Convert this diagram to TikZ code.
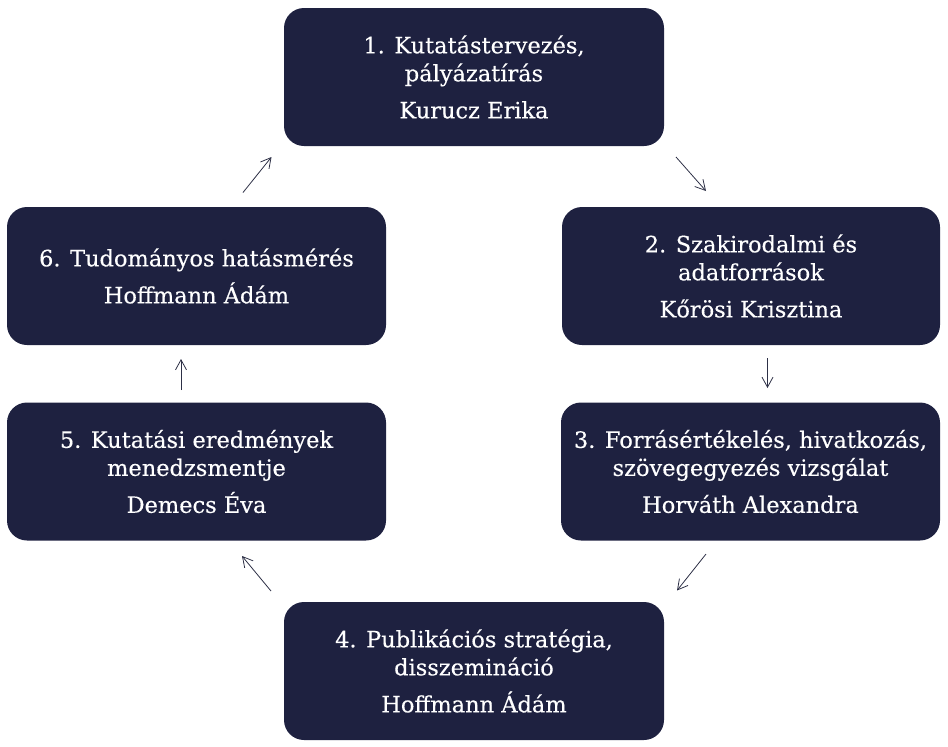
\documentclass[tikz,border=0pt]{standalone}
\usepackage{fontspec}
\setmainfont{DejaVu Serif}[FakeBold=0.35]
\usetikzlibrary{arrows.meta}
\definecolor{navy}{RGB}{30,33,64}
\definecolor{arr}{RGB}{45,48,70}
\begin{document}
\begin{tikzpicture}[x=1pt,y=-1pt,
  stepbox/.style={draw=none,fill=navy,rounded corners=20pt,minimum height=138pt,
    text=white,align=center,inner sep=0pt,
    font=\fontsize{22.5}{28}\selectfont},
  wide/.style={minimum width=380pt},
  conn/.style={draw=arr,line width=0.8pt,-{Straight Barb[length=10pt,width=11pt]}}]
\useasboundingbox (0,0) rectangle (948,747);
\node[stepbox,wide] (b1) at (474,77) {1. Kutatástervezés,\\pályázatírás\\[9pt]Kurucz Erika};
\node[stepbox,minimum width=378pt] (b2) at (751,276) {2. Szakirodalmi és\\adatforrások\\[9pt]Kőrösi Krisztina};
\node[stepbox,minimum width=379pt] (b3) at (750.5,471.5) {3. Forrásértékelés, hivatkozás,\\szövegegyezés vizsgálat\\[9pt]Horváth Alexandra};
\node[stepbox,wide] (b4) at (474,671) {4. Publikációs stratégia,\\disszemináció\\[9pt]Hoffmann Ádám};
\node[stepbox,minimum width=379pt] (b5) at (196.5,471.5) {5. Kutatási eredmények\\menedzsmentje\\[9pt]Demecs Éva};
\node[stepbox,minimum width=379pt] (b6) at (196.5,276) {6. Tudományos hatásmérés\\[9pt]Hoffmann Ádám};
\coordinate (a12s) at (676,157);
\coordinate (a12e) at (706,191);
\coordinate (a23s) at (767.5,358);
\coordinate (a23e) at (767.5,388);
\coordinate (a34s) at (706,554);
\coordinate (a34e) at (677,590.5);
\coordinate (a45s) at (271,591);
\coordinate (a45e) at (242,556);
\coordinate (a56s) at (181,390);
\coordinate (a56e) at (181,359);
\coordinate (a61s) at (243,192.5);
\coordinate (a61e) at (271.5,157);
\draw[conn] (a12s) -- (a12e);
\draw[conn] (a23s) -- (a23e);
\draw[conn] (a34s) -- (a34e);
\draw[conn] (a45s) -- (a45e);
\draw[conn] (a56s) -- (a56e);
\draw[conn] (a61s) -- (a61e);
\end{tikzpicture}
\end{document}
